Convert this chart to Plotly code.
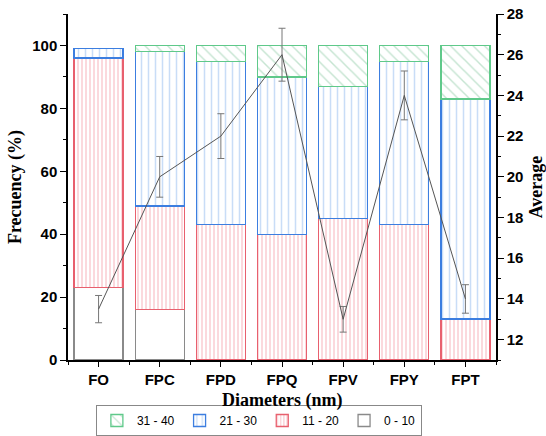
import plotly.graph_objects as go

categories = ["FO", "FPC", "FPD", "FPQ", "FPV", "FPY", "FPT"]
pct_0_10 = [23, 16, 0, 0, 0, 0, 0]
pct_11_20 = [73, 33, 43, 40, 45, 43, 13]
pct_21_30 = [3, 49, 52, 50, 42, 52, 70]
pct_31_40 = [0, 2, 5, 10, 13, 5, 17]
average = [13.5, 20.0, 22.0, 26.0, 13.0, 24.0, 14.0]
average_err = [0.67, 1.0, 1.1, 1.3, 0.63, 1.2, 0.7]

xpos = list(range(len(categories)))

def nz(vals):
    return [v if v else None for v in vals]

fig = go.Figure()

series = [
    ("0 - 10", pct_0_10, dict(shape="", fgcolor="white", bgcolor="white"), "#8a8a8a"),
    ("11 - 20", pct_11_20, dict(shape="|", size=4, solidity=0.4, fgcolor="#f5a0aa", bgcolor="white"), "#e8606e"),
    ("21 - 30", pct_21_30, dict(shape="|", size=7, solidity=0.22, fgcolor="#93bcf0", bgcolor="white"), "#3c7ee0"),
    ("31 - 40", pct_31_40, dict(shape="\\", size=8, solidity=0.18, fgcolor="#8ccaa4", bgcolor="white"), "#5fc98a"),
]
for name, vals, pat, lc in series:
    fig.add_trace(go.Bar(
        x=xpos, y=nz(vals), name=name,
        marker=dict(color="white", pattern=pat, line=dict(color=lc, width=1.3)),
        yaxis="y",
    ))

fig.add_trace(go.Scatter(
    x=xpos, y=average, mode="lines", name="Average", showlegend=False,
    line=dict(color="#555555", width=1),
    error_y=dict(type="data", array=average_err, color="#777777", thickness=1, width=3.5),
    yaxis="y2",
))

tickfont = dict(family="Liberation Sans", size=15, color="black", weight="bold")
titlefont = dict(family="Liberation Serif", size=18, color="black", weight="bold")

fig.update_layout(
    width=546, height=436,
    margin=dict(l=68, r=50, t=14, b=76, autoexpand=False),
    paper_bgcolor="white", plot_bgcolor="white",
    barmode="stack", bargap=0.2,
    xaxis=dict(
        range=[-0.5, 6.5], tickmode="array", tickvals=xpos, ticktext=categories,
        showline=True, linecolor="black", linewidth=1.5,
        ticks="outside", ticklen=5, tickwidth=1.2, tickcolor="black",
        minor=dict(tick0=0.5, dtick=1, ticks="outside", ticklen=3, tickcolor="black"),
        tickfont=tickfont, showgrid=False, zeroline=False,
    ),
    yaxis=dict(
        range=[0, 110], tickmode="array", tickvals=[0, 20, 40, 60, 80, 100],
        showline=True, linecolor="black", linewidth=1.5,
        ticks="outside", ticklen=6, tickwidth=1.2, tickcolor="black",
        minor=dict(tickmode="array", tickvals=[10, 30, 50, 70, 90, 110], ticks="outside", ticklen=3, tickcolor="black"),
        tickfont=tickfont, showgrid=False, zeroline=False,
        title=dict(text="Frecuency (%)", font=titlefont, standoff=6),
    ),
    yaxis2=dict(
        range=[11, 28], overlaying="y", side="right", tickmode="array",
        tickvals=[12, 14, 16, 18, 20, 22, 24, 26, 28],
        showline=True, linecolor="black", linewidth=1.5,
        ticks="outside", ticklen=6, tickwidth=1.2, tickcolor="black",
        minor=dict(tickmode="array", tickvals=[11, 13, 15, 17, 19, 21, 23, 25, 27], ticks="outside", ticklen=3, tickcolor="black"),
        tickfont=tickfont, showgrid=False, zeroline=False,
        title=dict(text="Average", font=titlefont, standoff=8),
    ),
    legend=dict(
        orientation="h", traceorder="reversed",
        x=0.446, xanchor="center", yref="container", y=0.0, yanchor="bottom",
        bordercolor="#888888", borderwidth=1,
        font=dict(family="Liberation Sans", size=12, color="black"),
        tracegroupgap=0, itemwidth=30,
    ),
    annotations=[dict(
        text="Diameters (nm)", xref="paper", yref="paper", x=0.5, y=-0.118,
        xanchor="center", yanchor="middle", showarrow=False, font=titlefont,
    )],
)

fig.write_html("out.html", config={"displayModeBar": False},
               post_script="document.body.style.margin='0';document.body.style.overflow='hidden';")
